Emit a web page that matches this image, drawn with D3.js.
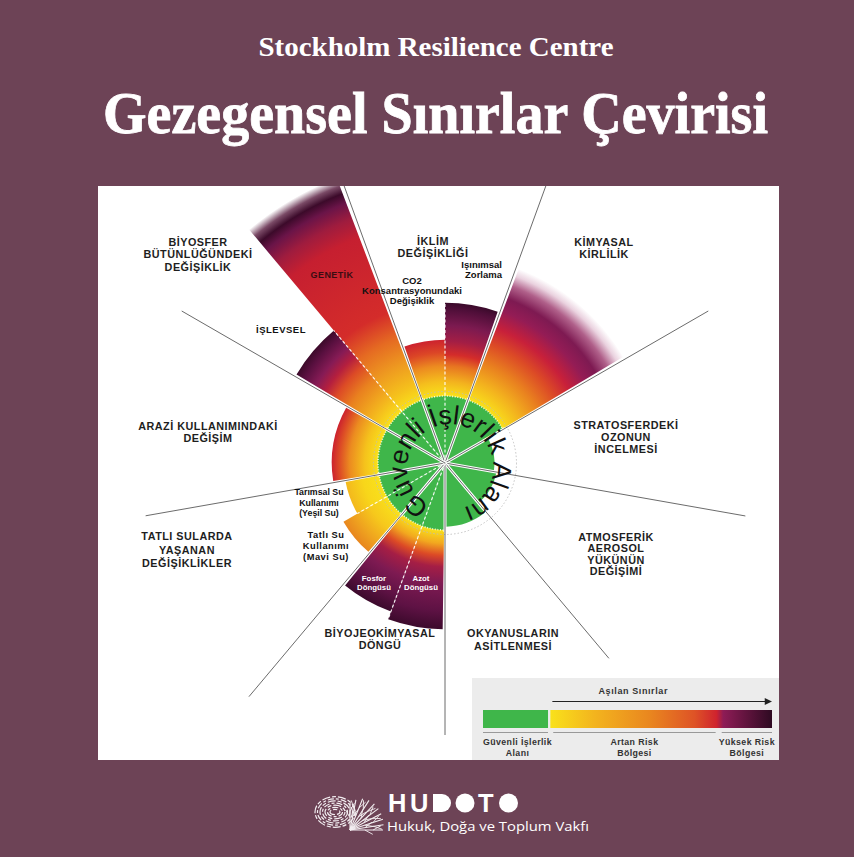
<!DOCTYPE html>
<html><head><meta charset="utf-8">
<script src="https://cdn.jsdelivr.net/npm/d3@7"></script>
<style>html,body{margin:0;padding:0;background:#6d4356;}svg{display:block}</style>
</head><body>
<svg id="chart" width="854" height="857"></svg>
<script>
// ---------------- DATA ----------------
const subtitleText = "Stockholm Resilience Centre";
const titleText = "Gezegensel Sınırlar Çevirisi";

// 9 planetary-boundary sectors (clockwise from top)
const sectorNames = ["İKLİM DEĞİŞİKLİĞİ","KİMYASAL KİRLİLİK","STRATOSFERDEKİ OZONUN İNCELMESİ",
  "ATMOSFERİK AEROSOL YÜKÜNÜN DEĞİŞİMİ","OKYANUSLARIN ASİTLENMESİ","BİYOJEOKİMYASAL DÖNGÜ",
  "TATLI SULARDA YAŞANAN DEĞİŞİKLİKLER","ARAZİ KULLANIMINDAKİ DEĞİŞİM","BİYOSFER BÜTÜNLÜĞÜNDEKİ DEĞİŞİKLİK"];
const sectorLabelLines = [["İKLİM","DEĞİŞİKLİĞİ"],["KİMYASAL","KİRLİLİK"],["STRATOSFERDEKİ","OZONUN","İNCELMESİ"],
  ["ATMOSFERİK","AEROSOL","YÜKÜNÜN","DEĞİŞİMİ"],["OKYANUSLARIN","ASİTLENMESİ"],["BİYOJEOKİMYASAL","DÖNGÜ"],
  ["TATLI SULARDA","YAŞANAN","DEĞİŞİKLİKLER"],["ARAZİ KULLANIMINDAKİ","DEĞİŞİM"],["BİYOSFER","BÜTÜNLÜĞÜNDEKİ","DEĞİŞİKLİK"]];

// control variables (wedges); value = distance relative to the safe boundary (1 = boundary)
const subNames = ["CO2 Konsantrasyonundaki Değişiklik","Işınımsal Zorlama","Kimyasal Kirlilik","Ozon","Aerosol",
  "Okyanus Asitlenmesi","Azot Döngüsü","Fosfor Döngüsü","Tatlı Su Kullanımı (Mavi Su)","Tarımsal Su Kullanımı (Yeşil Su)",
  "Arazi Kullanımı","İşlevsel","Genetik"];
const subSector = [0,0,1,2,3,4,5,5,6,6,7,8,8];
const subHalf   = [0,1,-1,-1,-1,-1,0,1,0,1,-1,0,1];   // 0 = first half, 1 = second half, -1 = whole sector
const subValues = [1.84,2.39,3.1,0.74,0.78,0.95,2.48,2.36,1.75,1.51,1.69,2.58,4.55];

// colour profiles along the radius for each wedge: [value, colour]
const profileCO2 = [[1,"#f9e11b"],[1.22,"#f5be1d"],[1.45,"#ec8a20"],[1.65,"#dc4626"],[1.84,"#cc222e"]];
const profileRF  = [[1,"#f9e11b"],[1.22,"#f3b21e"],[1.45,"#e77421"],[1.62,"#d42c2a"],[1.82,"#a31e45"],[2.05,"#7c1a50"],[2.3,"#4e0e38"],[2.39,"#3a0a2a"]];
const profileChem= [[1,"#f9e11b"],[1.3,"#f3b21e"],[1.6,"#e9801f"],[1.9,"#dc4a26"],[2.15,"#c8203a"],[2.42,"#941c55"],[2.62,"#7e1a52"],[2.82,"#b0608a"],[2.98,"#ead2df"],[3.1,"#ffffff"]];
const profileN   = [[1,"#f9e11b"],[1.2,"#f2a81f"],[1.38,"#dc4a26"],[1.55,"#a51e45"],[1.8,"#7e1a52"],[2.2,"#5e1244"],[2.48,"#3c0a2c"]];
const profileP   = [[1,"#f9e11b"],[1.2,"#f2a81f"],[1.38,"#dc4a26"],[1.55,"#a51e45"],[1.8,"#7e1a52"],[2.1,"#5e1244"],[2.36,"#3c0a2c"]];
const profileBlue= [[1,"#f9e11b"],[1.3,"#f6c81c"],[1.55,"#efa41f"],[1.75,"#e8861f"]];
const profileGreenW=[[1,"#f9e11b"],[1.25,"#f8d61a"],[1.51,"#f3b81d"]];
const profileLand= [[1,"#f9e11b"],[1.2,"#f5c21c"],[1.42,"#ec8c20"],[1.58,"#dc4a26"],[1.69,"#cc222e"]];
const profileFunc= [[1,"#f9e11b"],[1.3,"#f3b21e"],[1.65,"#e9801f"],[1.9,"#dc4a26"],[2.08,"#b51f3e"],[2.25,"#861b55"],[2.45,"#5a1040"],[2.58,"#3c0a2a"]];
const profileGen = [[1,"#f9e11b"],[1.25,"#f5c01c"],[1.6,"#ee9a20"],[2.0,"#e56a22"],[2.4,"#d42c2a"],[3.6,"#c61f30"],[3.9,"#9f1c3e"],[4.15,"#6a1448"],[4.3,"#3c0a2a"],[4.42,"#7a4a66"],[4.55,"#ffffff"]];
const subProfiles = [profileCO2,profileRF,profileChem,null,null,null,profileN,profileP,profileBlue,profileGreenW,profileLand,profileFunc,profileGen];

// sub-labels
const subLabelLines = [["CO2","Konsantrasyonundaki","Değişiklik"],["Işınımsal","Zorlama"],["GENETİK"],["İŞLEVSEL"],
  ["Fosfor","Döngüsü"],["Azot","Döngüsü"],["Tatlı Su","Kullanımı","(Mavi Su)"],["Tarımsal Su","Kullanımı","(Yeşil Su)"]];
const centreText = "Güvenli İşlerlik Alanı";

// legend
const legendTitle = "Aşılan Sınırlar";
const legendLabels = [["Güvenli İşlerlik","Alanı"],["Artan Risk","Bölgesi"],["Yüksek Risk","Bölgesi"]];
const legendStops = [[0,"#f9e11b"],[0.2,"#f3b41e"],[0.45,"#e9861f"],[0.65,"#de5326"],[0.75,"#cf232e"],[0.78,"#8e1c56"],[1,"#2e0a22"]];
const logoName = "HUDOTO";
const logoSub = "Hukuk, Doğa ve Toplum Vakfı";

// ---------------- LAYOUT ----------------
const W = 854, H = 857;
const C = {x:445, y:463};
const GREEN = "#3fb64a", BG = "#6d4356";
const spokeLen = [300,300,304,305,255,272,305,304,304];   // for boundaries at -20,20,...,300 deg
const sectorLabelPos = [[433,245,12],[604,246,12],[626,429,12],[616,541,11.4],[513,637,13],[380,637,12],[187,540,13.5],[208,429.5,12],[198,245.5,12.5]];
const subLabelPos = [[412,284,10,"middle","#111",9.5,0],[502,268.3,9.6,"end","#111",9.5,0],[332,277.7,0,"middle","#3a0d12",9,0.4],
  [281,333.3,0,"middle","#111",9.5,0.5],[374,580.7,9.4,"middle","#fff",7.8,0],[421,581,9,"middle","#fff",7.8,0],
  [326,537.7,11.2,"middle","#111",9.3,0.5],[319,495,10.5,"middle","#111",8.8,0]];

const sansB = '"Liberation Sans", Arial, Helvetica, sans-serif';
const svg = d3.select("#chart");
const defs = svg.append("defs");

svg.append("rect").attr("width",W).attr("height",H).attr("fill",BG);

// titles
svg.append("text").attr("x",436).attr("y",56).attr("text-anchor","middle")
  .attr("font-family",'"Liberation Serif","Times New Roman",serif').attr("font-weight","bold")
  .attr("font-size",27).attr("fill","#fff").attr("textLength",355).attr("lengthAdjust","spacingAndGlyphs").text(subtitleText);
svg.append("text").attr("x",435.5).attr("y",133).attr("text-anchor","middle")
  .attr("font-family",'"Liberation Serif","Times New Roman",serif').attr("font-weight","bold")
  .attr("font-size",59).attr("fill","#fff").attr("stroke","#fff").attr("stroke-width",0.8)
  .attr("textLength",665).attr("lengthAdjust","spacingAndGlyphs").text(titleText);

// white panel
const panel = {x:98,y:186,w:681,h:574};
svg.append("rect").attr("x",panel.x).attr("y",panel.y).attr("width",panel.w).attr("height",panel.h).attr("fill","#fff");
defs.append("clipPath").attr("id","panelClip").append("rect")
  .attr("x",panel.x).attr("y",panel.y).attr("width",panel.w).attr("height",panel.h);

const outer = svg.append("g").attr("clip-path","url(#panelClip)");
const g = outer.append("g").attr("transform",`translate(${C.x},${C.y})`);

const r = d3.scaleLinear().domain([0,1]).range([0,67]);
const deg = Math.PI/180;
const pad = 0.8;

function angRange(i){
  const c = subSector[i]*40, h = subHalf[i];
  let a0 = c-20, a1 = c+20;
  if (h===0) a1 = c; if (h===1) a0 = c;
  const s = (h===1) ? a0 : a0+pad;
  const e = (h===0) ? a1 : a1-pad;
  return [s*deg, e*deg];
}

// gradients
subValues.forEach((v,i)=>{
  const prof = subProfiles[i]; if (!prof) return;
  const grad = defs.append("radialGradient").attr("id","grad"+i).attr("gradientUnits","userSpaceOnUse")
    .attr("cx",0).attr("cy",0).attr("fx",0).attr("fy",0).attr("r",r(v));
  prof.forEach(([u,c])=> grad.append("stop").attr("offset",r(u)/r(v)).attr("stop-color",c));
});

const arc = d3.arc();
// coloured wedges (beyond boundary)
subValues.forEach((v,i)=>{
  if (v<=1) return;
  const [s,e] = angRange(i);
  g.append("path").attr("d",arc({innerRadius:r(1)-3,outerRadius:r(v),startAngle:s,endAngle:e}))
    .attr("fill",`url(#grad${i})`);
});
// green safe-zone wedges
subValues.forEach((v,i)=>{
  const [s,e] = angRange(i);
  g.append("path").attr("d",arc({innerRadius:0,outerRadius:r(Math.min(v,1)),startAngle:s,endAngle:e}))
    .attr("fill",GREEN);
});

// dotted rings
g.append("circle").attr("r",r(1)).attr("fill","none").attr("stroke","#ffffff").attr("stroke-opacity",0.85)
  .attr("stroke-width",1.6).attr("stroke-dasharray","1 1.6");
g.append("circle").attr("r",r(1)+4.5).attr("fill","none").attr("stroke","#bdbdbd")
  .attr("stroke-width",0.9).attr("stroke-dasharray","1.5 2");

// dividers inside split sectors (white dashed)
const splitSectors = [0,5,6,8];
const dividerMode = ["max","max","min","min"];
splitSectors.forEach((s,k)=>{
  const idx = subSector.map((d,i)=>d===s?i:-1).filter(i=>i>=0);
  const vals = idx.map(i=>subValues[i]);
  const len = dividerMode[k]==="max" ? d3.max(vals) : d3.min(vals);
  const a = s*40*deg;
  g.append("line").attr("x1",0).attr("y1",0).attr("x2",r(len)*Math.sin(a)).attr("y2",-r(len)*Math.cos(a))
    .attr("stroke","#fff").attr("stroke-width",1.2).attr("stroke-dasharray","3 2.2").attr("stroke-opacity",0.9);
});

// spokes
const bounds = d3.range(9).map(k=>(40*k-20)*deg);
bounds.forEach((a,k)=>{
  g.append("line").attr("x1",0).attr("y1",0).attr("x2",(r(1)+2)*Math.sin(a)).attr("y2",-(r(1)+2)*Math.cos(a))
    .attr("stroke","#fff").attr("stroke-width",3);
  g.append("line").attr("x1",0).attr("y1",0).attr("x2",spokeLen[k]*Math.sin(a)).attr("y2",-spokeLen[k]*Math.cos(a))
    .attr("stroke","#5a5a5a").attr("stroke-width",0.9);
});

// circular centre text
const tc = {x:5, y:4}, tr = 43, mid = 5;
const a0 = (mid-180)*deg;
const P = a => [tc.x + tr*Math.sin(a), tc.y - tr*Math.cos(a)];
const p0 = P(a0), p1 = P(a0+Math.PI), p2 = P(a0+2*Math.PI-0.001);
defs.append("path").attr("id","tpath")
  .attr("d",`M${p0[0]},${p0[1]} A${tr},${tr} 0 0 1 ${p1[0]},${p1[1]} A${tr},${tr} 0 0 1 ${p2[0]},${p2[1]}`);
g.append("text").attr("font-family",sansB).attr("font-size",26.5).attr("fill","#111")
  .append("textPath").attr("href","#tpath").attr("startOffset","50%").attr("text-anchor","middle")
  .attr("textLength",236).attr("lengthAdjust","spacing").text(centreText);

// labels
function multiLine(parent, lines, x, y, lh, anchor, fill, size, ls, weight){
  const t = parent.append("text").attr("text-anchor",anchor).attr("font-family",sansB)
    .attr("font-weight",weight||"bold").attr("font-size",size).attr("fill",fill).attr("letter-spacing",ls);
  lines.forEach((l,j)=> t.append("tspan").attr("x",x).attr("y",y+j*lh).text(l));
}
sectorLabelLines.forEach((lines,i)=>{
  const [x,y,lh] = sectorLabelPos[i];
  multiLine(outer, lines, x, y, lh, "middle", "#1e1e1e", 10.8, 0.5);
});
subLabelLines.forEach((lines,i)=>{
  const [x,y,lh,anc,fill,size,ls] = subLabelPos[i];
  multiLine(outer, lines, x, y, lh, anc, fill, size, ls);
});

// legend
const L = outer.append("g");
L.append("rect").attr("x",472).attr("y",678).attr("width",307).attr("height",82).attr("fill","#ececec");
const lx = d3.scaleLinear().domain([0,1]).range([483,772]);
L.append("text").attr("x",lx(0.52)).attr("y",693.5).attr("text-anchor","middle").attr("font-family",sansB)
  .attr("font-weight","bold").attr("font-size",9).attr("letter-spacing",0.6).attr("fill","#333").text(legendTitle);
L.append("line").attr("x1",lx(0.24)).attr("x2",lx(0.985)).attr("y1",701.5).attr("y2",701.5).attr("stroke","#222").attr("stroke-width",1);
L.append("path").attr("d",`M${lx(0.975)},698 L${lx(1)},701.5 L${lx(0.975)},705 Z`).attr("fill","#222");
L.append("rect").attr("x",lx(0)).attr("y",710).attr("width",lx(0.225)-lx(0)).attr("height",18).attr("fill",GREEN);
const lg = defs.append("linearGradient").attr("id","legGrad");
legendStops.forEach(([o,c])=>lg.append("stop").attr("offset",o).attr("stop-color",c));
L.append("rect").attr("x",lx(0.233)).attr("y",710).attr("width",lx(1)-lx(0.233)).attr("height",18).attr("fill","url(#legGrad)");
const segs = [[0,0.225],[0.243,0.805],[0.826,1]];
segs.forEach(([a,b],k)=>{
  L.append("line").attr("x1",lx(a)).attr("x2",lx(b)).attr("y1",732.5).attr("y2",732.5).attr("stroke","#999").attr("stroke-width",1);
  multiLine(L, legendLabels[k], (lx(a)+lx(b))/2 + (k===0?2:0), 745, 11, "middle", "#333", 8.8, 0.4);
});

// logo
const logo = svg.append("g");
const lw = "#f3eef1";
// fingerprint-like part
[3,5.5,8,10.5,13,15.5,18].forEach((rr,k)=>{
  logo.append("ellipse").attr("cx",335).attr("cy",812).attr("rx",rr+2).attr("ry",rr*0.85)
    .attr("fill","none").attr("stroke",lw).attr("stroke-width",1.2)
    .attr("stroke-dasharray",k%2? "6 2 3 2":"4 2 8 2");
});
// branch part
const base = [350,830];
[[-8,30],[2,34],[12,37],[22,38],[32,38],[42,37],[52,36],[62,35],[72,34],[82,33]].forEach(([ang,len],k)=>{
  const a = (ang+8)*deg;
  const ex = base[0]+len*Math.sin(a), ey = base[1]-len*Math.cos(a)*0.9;
  logo.append("line").attr("x1",base[0]).attr("y1",base[1]).attr("x2",ex).attr("y2",ey).attr("stroke",lw).attr("stroke-width",1.1);
  [0.45,0.7].forEach((f,j)=>{
    const mx = base[0]+len*f*Math.sin(a), my = base[1]-len*f*Math.cos(a)*0.9;
    const b = a + ((k+j)%2? 0.5:-0.5);
    logo.append("line").attr("x1",mx).attr("y1",my).attr("x2",mx+9*Math.sin(b)).attr("y2",my-9*Math.cos(b)).attr("stroke",lw).attr("stroke-width",0.9);
  });
});
const fB = {family:sansB,size:25.5};
logo.append("text").attr("x",388).attr("y",812).attr("font-family",fB.family).attr("font-weight","bold").attr("font-size",fB.size).attr("fill","#fff").text(logoName[0]);
logo.append("text").attr("x",410).attr("y",812).attr("font-family",fB.family).attr("font-weight","bold").attr("font-size",fB.size).attr("fill","#fff").text(logoName[1]);
logo.append("path").attr("d","M433,794 H442 A9,9 0 0 1 442,812 H433 Z").attr("fill","#fff");
logo.append("circle").attr("cx",465).attr("cy",803).attr("r",9.5).attr("fill","#fff");
logo.append("text").attr("x",478).attr("y",812).attr("font-family",fB.family).attr("font-weight","bold").attr("font-size",fB.size).attr("fill","#fff").text(logoName[4]);
logo.append("circle").attr("cx",508.5).attr("cy",803).attr("r",9.5).attr("fill","#fff");
logo.append("text").attr("x",387).attr("y",831).attr("font-family",'"Open Sans","Noto Sans",sans-serif').attr("font-size",13.5)
  .attr("fill","#fff").attr("textLength",202).attr("lengthAdjust","spacingAndGlyphs").text(logoSub);
</script>
</body></html>
